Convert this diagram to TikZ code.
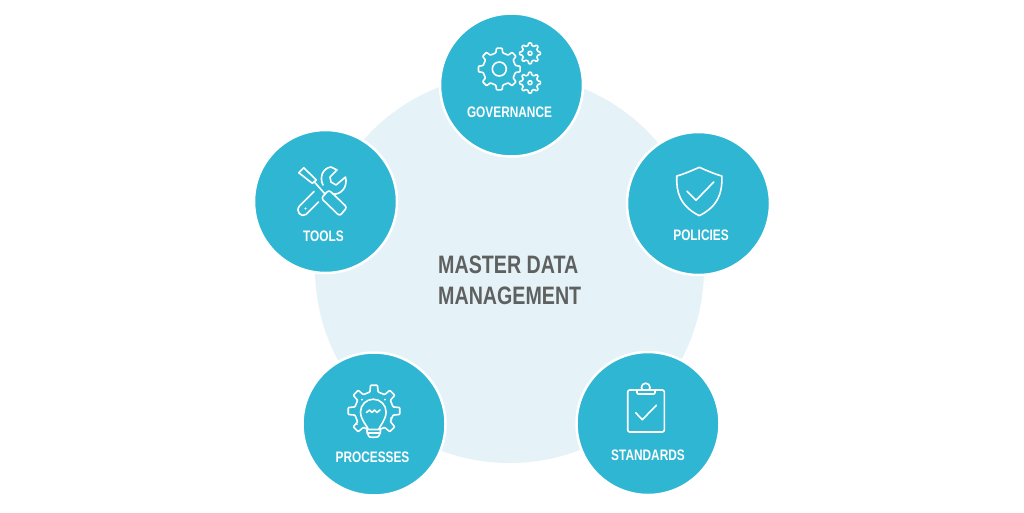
\documentclass[tikz,border=0pt]{standalone}
\usepackage{fontspec}
\setmainfont{Liberation Sans}[FakeStretch=0.78]
\definecolor{disc}{HTML}{2FB6D3}
\definecolor{pale}{HTML}{E5F2F8}
\definecolor{ink}{HTML}{5F6060}
\tikzset{
  disc/.style={circle,fill=disc,draw=white,line width=2.5pt,minimum size=143pt,inner sep=0pt},
  label/.style={text=white,font=\fontsize{15.2}{17}\selectfont\bfseries,inner sep=0pt,anchor=center},
  title/.style={text=ink,font=\fontsize{25.2}{31}\selectfont\bfseries,align=left,inner sep=0pt},
  icon/.style={draw=white,line width=1.6pt,line join=round,line cap=round},
}
% centre x, centre y, outer r, root r, teeth, rotation
\newcommand{\gearshape}[6]{%
  \begin{scope}[shift={(#1,#2)},rotate=#6]
    \pgfmathsetmacro{\st}{360/#5}
    \pgfmathsetmacro{\wa}{\st*0.17}
    \pgfmathsetmacro{\wb}{\st*0.27}
    \draw[icon,fill=disc,rounded corners=0.7pt]
      (-\wb:#4) \foreach \k in {1,...,#5}{
        \pgfextra{\pgfmathsetmacro{\ang}{(\k-1)*\st}
        \pgfmathsetmacro{\pa}{\ang-\wb}\pgfmathsetmacro{\pb}{\ang-\wa}
        \pgfmathsetmacro{\pc}{\ang+\wa}\pgfmathsetmacro{\pd}{\ang+\wb}}
        -- (\pa:#4) -- (\pb:#3) -- (\pc:#3) -- (\pd:#4)
      } -- cycle;
  \end{scope}}
\begin{document}
\begin{tikzpicture}[x=1pt,y=-1pt]
\useasboundingbox (0,0) rectangle (1024,512);
\fill[white] (0,0) rectangle (1024,512);
\node[circle,fill=pale,minimum size=389pt,inner sep=0pt] (hub) at (509.5,268.5) {};
\node[title,anchor=west] (mdm) at (438,280.5) {MASTER DATA\\MANAGEMENT};

\node[disc] (gov) at (511.5,85) {};
\node[disc] (pol) at (698.5,203.5) {};
\node[disc] (std) at (648,423.5) {};
\node[disc] (pro) at (374,424) {};
\node[disc] (too) at (325.5,201.5) {};

\node[label] (govt) at (509.5,112.5) {GOVERNANCE};
\node[label] (polt) at (701,235.5) {POLICIES};
\node[label] (stdt) at (648,455.5) {STANDARDS};
\node[label] (prot) at (372.5,457) {PROCESSES};
\node[label] (toot) at (323.5,236.5) {TOOLS};

% governance icon
\gearshape{499.3}{69}{21}{16.5}{8}{0}
\draw[icon] (499.3,69) circle (7);
\gearshape{530}{53.3}{10.5}{8}{8}{0}
\draw[icon] (530,53.3) circle (2);
\gearshape{530}{82.7}{10.5}{8}{8}{0}
\draw[icon] (530,82.7) circle (2);

% policies icon
\draw[icon] (699.3,167.3) .. controls (692,170.5) and (684,174) .. (676.8,176)
  .. controls (676,192) and (680,206) .. (699.3,215.7)
  .. controls (718.6,206) and (722.6,192) .. (721.8,176)
  .. controls (714.6,174) and (706.6,170.5) .. (699.3,167.3) -- cycle;
\draw[icon] (687,191.3) -- (696,200.3) -- (713.7,182);

% standards icon
\draw[icon,rounded corners=2pt] (637,390) -- (627.7,390) -- (627.7,432) -- (664.3,432) -- (664.3,390) -- (655,390);
\draw[icon,fill=disc] (645.7,387.5) circle (4.3);
\draw[icon,fill=disc,rounded corners=1pt] (637,390) -- (637,394) -- (655,394) -- (655,390) -- cycle;
\draw[icon] (635.7,412.7) -- (642.3,419.7) -- (656.3,405.3);

% processes icon
\gearshape{374}{411}{26}{19.5}{8}{0}
\draw[icon,fill=disc] (369,431) .. controls (367,425) and (361,421) .. (360.5,412)
  arc[start angle=180,end angle=360,radius=12.8]
  .. controls (385.6,421) and (380,425) .. (378,431) -- cycle;
\draw[icon,fill=disc,rounded corners=1pt] (366.5,429.5) -- (381,429.5) -- (379,436) .. controls (377,437.5) and (370,437.5) .. (368.5,436) -- cycle;
\draw[icon] (367,433) -- (380.5,433);
\draw[icon] (366.5,412.5) -- (369.5,410) -- (372,412.5) -- (374.5,410) -- (377,412.5) -- (380,410);
\fill[white] (362,399.5) circle (1) (385,399.5) circle (1) (357,424) circle (1) (391,418) circle (1);

% tools icon
\draw[icon] (298.7,172.7) -- (303.7,167.7) -- (316.3,180) -- (312.3,183.3) -- cycle;
\draw[icon] (314,181.5) -- (325,194);
\draw[icon,rounded corners=2.5pt] (325,194) -- (321.3,198.3) -- (339.7,216) -- (347,207.3) -- (329,190) -- cycle;
\draw[icon] (314,191.5) -- (299.5,206) .. controls (295,211) and (301,218) .. (306,214.5) -- (318.5,202);
\fill[white] (305.5,208.5) circle (1.1);
\draw[icon] (323,185) .. controls (319,177) and (323,168) .. (331,167) -- (337,170) -- (330,177) -- (331,182) -- (336,185) -- (345.5,177)
  .. controls (348,187) and (341,195) .. (333,194);
\end{tikzpicture}
\end{document}
